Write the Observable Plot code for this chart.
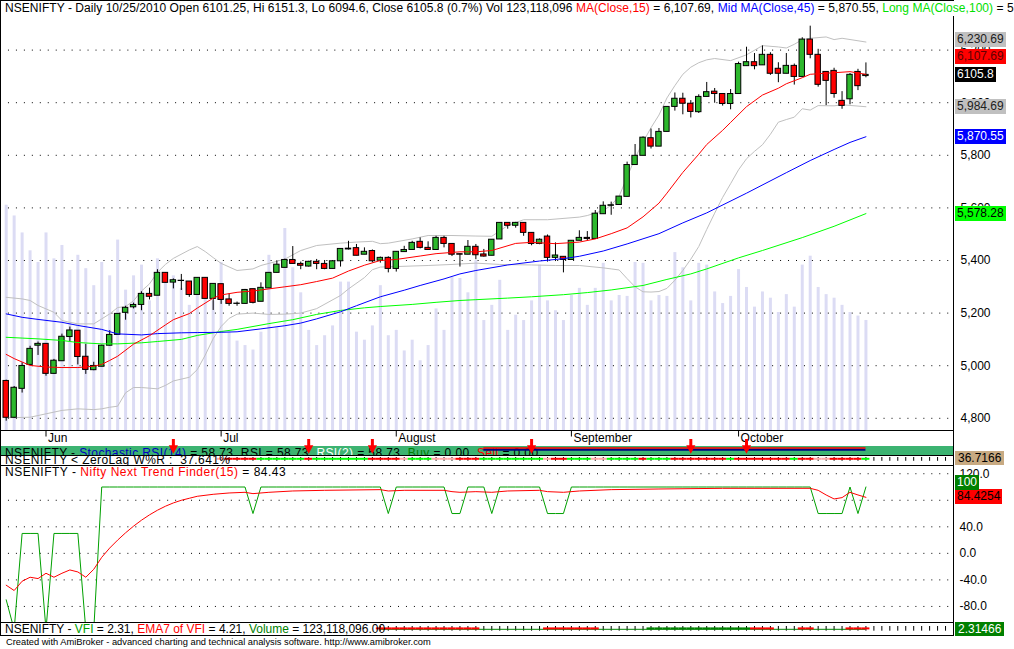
<!DOCTYPE html>
<html>
<head>
<meta charset="utf-8">
<script src="https://cdn.jsdelivr.net/npm/d3@7"></script>
<script src="https://cdn.jsdelivr.net/npm/@observablehq/plot@0.6"></script>
<style>
  html, body { margin:0; padding:0; background:#fff; }
  #root { position:relative; width:1014px; height:649px; overflow:hidden; background:#fff;
          font-family:"Liberation Sans", Arial, sans-serif; font-size:12px; color:#000; }
  #root > * { position:absolute; }
</style>
</head>
<body>
<div id="root"></div>
<script>
// ================= DATA =================
const symbol = "NSENIFTY";
const lastDate = "10/25/2010";
const volumeLast = 123118096;

const opens = [4942,4802,4912,5003,5076,5083,4969,5017,5109,5133,
5034,4983,4996,5076,5117,5201,5222,5231,5273,5266,
5353,5316,5322,5320,5269,5334,5254,5310,5252,5235,
5235,5291,5243,5294,5353,5372,5402,5387,5377,5395,
5387,5368,5397,5442,5447,5422,5436,5399,5410,5368,
5432,5440,5471,5448,5440,5486,5463,5424,5422,5452,
5423,5418,5480,5543,5532,5543,5505,5463,5491,5410,
5414,5402,5475,5486,5482,5576,5608,5611,5642,5763,
5798,5865,5833,5889,5984,6015,5996,5964,6022,6042,
6033,5995,6033,6139,6154,6142,6182,6129,6110,6140,
6098,6240,6182,6117,6121,6007,6013,6117,6101.25];
const highs = [4945,4921,5011,5074,5090,5083,5024,5120,5147,5133,
5081,5013,5078,5133,5197,5226,5238,5281,5295,5365,
5353,5330,5347,5320,5334,5334,5311,5310,5273,5242,
5290,5291,5315,5353,5399,5405,5453,5394,5397,5404,
5400,5400,5444,5473,5461,5448,5440,5413,5414,5434,
5454,5473,5486,5471,5492,5492,5463,5425,5476,5461,
5442,5479,5543,5543,5545,5543,5505,5482,5497,5467,
5414,5475,5513,5510,5590,5623,5622,5643,5774,5841,
5870,5900,5902,5984,6037,6036,6008,6030,6077,6054,
6033,6050,6154,6211,6187,6216,6190,6152,6187,6147,
6247,6291,6203,6117,6131,6042,6111,6127,6151.3];
const lows = [4789,4800,4896,5003,5039,4960,4968,5017,5092,5003,
4967,4981,4996,5075,5115,5173,5216,5209,5250,5266,
5315,5292,5286,5260,5269,5254,5210,5233,5226,5226,
5235,5235,5243,5294,5353,5372,5387,5365,5375,5365,
5365,5368,5375,5440,5418,5422,5391,5390,5353,5356,
5432,5438,5444,5438,5440,5448,5415,5375,5422,5403,
5413,5418,5480,5519,5523,5492,5456,5460,5394,5396,
5353,5402,5475,5476,5482,5576,5572,5611,5642,5763,
5798,5824,5833,5889,5968,5954,5942,5959,6022,5998,
5987,5973,6033,6139,6125,6142,6104,6076,6110,6067,
6098,6167,6059,5989,6017,5975,5992,6046,6094.6];
const closes = [4802,4916,4999,5064,5083,4969,5019,5110,5134,5033,
4984,4999,5076,5117,5197,5220,5231,5273,5262,5353,
5315,5325,5323,5269,5334,5254,5311,5250,5235,5236,
5288,5239,5296,5353,5384,5402,5387,5380,5395,5387,
5368,5397,5444,5445,5418,5433,5397,5410,5368,5433,
5440,5467,5448,5440,5486,5463,5422,5422,5452,5420,
5415,5479,5543,5532,5543,5505,5463,5479,5410,5419,
5402,5475,5486,5482,5578,5608,5610,5643,5763,5798,
5867,5833,5889,5984,6015,5996,5965,6022,6040,6033,
5995,6033,6147,6154,6139,6182,6110,6110,6140,6098,
6240,6182,6068,6083,6033,5988,6106,6062.9,6105.8];
// volume, millions
const volumes = [252,240,221,201,188,221,192,207,179,196,
181,162,188,173,213,157,173,185,145,192,
168,173,159,140,157,170,145,188,110,100,
95,90,110,196,115,226,182,154,112,95,
106,117,166,166,110,101,117,162,106,112,
89,101,78,95,136,112,171,170,154,190,
123,140,168,112,129,123,145,185,145,134,
123,151,159,140,159,187,145,151,150,188,
187,145,151,150,199,182,145,187,185,155,
142,150,180,160,138,155,148,132,152,138,
185,195,160,152,148,140,132,128,123.1];

// moving averages & Bollinger bands: [bar index, value]
const ma15 = [[0,5043],[1,5027],[3,5001],[5,4995],[7,4993],[9,4993],[11,4998],[12,5005],[13,5020],[14,5036],[16,5082],[18,5114],[20,5155],[21,5175],[23,5198],[24,5219],[26,5257],[27,5269],[29,5279],[31,5284],[33,5292],[35,5300],[37,5308],[39,5320],[41,5333],[43,5360],[45,5382],[47,5400],[49,5404],[52,5417],[54,5426],[57,5433],[59,5433],[61,5438],[64,5465],[66,5469],[69,5464],[72,5470],[74,5482],[76,5502],[78,5524],[80,5566],[82,5618],[83,5656],[85,5735],[87,5804],[88,5841],[90,5895],[91,5925],[93,5985],[95,6029],[97,6055],[98,6072],[100,6095],[101,6108],[103,6112],[104,6114],[106,6118],[108,6107.69]];
const ma45 = [[0,5197],[2,5184],[4,5176],[7,5165],[9,5153],[12,5138],[14,5121],[17,5117],[19,5122],[22,5125],[24,5126],[27,5127],[29,5129],[32,5140],[35,5152],[37,5162],[39,5178],[42,5205],[44,5228],[47,5262],[50,5287],[52,5305],[55,5330],[57,5349],[59,5362],[63,5383],[67,5398],[70,5407],[72,5416],[75,5436],[78,5463],[82,5502],[85,5543],[88,5581],[93,5656],[98,5734],[101,5780],[104,5822],[106,5849],[108,5870.55]];
const ma100 = [[0,5108],[2,5105],[4,5102],[7,5096],[9,5088],[12,5083],[14,5083],[17,5087],[19,5092],[22,5100],[24,5115],[27,5130],[29,5138],[33,5160],[36,5175],[39,5195],[42,5210],[45,5220],[47,5225],[51,5233],[54,5241],[57,5248],[59,5251],[63,5257],[66,5262],[70,5270],[73,5278],[76,5288],[80,5305],[83,5328],[86,5349],[88,5368],[92,5410],[95,5438],[100,5487],[104,5530],[108,5578.28]];
const bbUpper = [[0,5260],[2,5254],[3,5248],[4,5229],[6,5203],[7,5172],[8,5165],[9,5159],[11,5159],[12,5178],[13,5197],[14,5221],[15,5225],[16,5247],[17,5284],[18,5311],[19,5355],[20,5385],[21,5408],[23,5440],[24,5453],[25,5434],[26,5411],[27,5389],[29,5362],[31,5368],[32,5381],[35,5405],[37,5438],[39,5457],[42,5466],[44,5470],[46,5473],[47,5464],[48,5466],[51,5482],[53,5495],[56,5495],[59,5493],[61,5492],[63,5533],[65,5555],[68,5555],[72,5565],[73,5571],[75,5590],[76,5610],[77,5645],[78,5717],[79,5790],[80,5850],[81,5905],[82,5953],[83,6018],[84,6065],[85,6108],[86,6135],[87,6152],[88,6163],[89,6168],[91,6160],[93,6182],[95,6217],[97,6212],[98,6208],[99,6222],[100,6240],[101,6245],[103,6250],[104,6240],[105,6245],[108,6230.69]];
const bbLower = [[0,4802],[3,4804],[5,4817],[7,4830],[9,4836],[11,4833],[12,4836],[13,4842],[14,4846],[15,4897],[16,4917],[17,4917],[19,4912],[20,4925],[21,4942],[23,4956],[24,4985],[25,5040],[26,5103],[27,5149],[28,5180],[29,5196],[31,5200],[33,5195],[35,5196],[37,5200],[39,5217],[42,5267],[43,5292],[45,5335],[46,5365],[47,5375],[49,5377],[53,5381],[56,5385],[59,5390],[62,5385],[66,5383],[69,5381],[72,5381],[75,5372],[76,5368],[77,5364],[78,5331],[79,5300],[80,5281],[81,5280],[82,5282],[83,5294],[84,5325],[85,5362],[86,5405],[87,5453],[88,5518],[89,5580],[90,5640],[91,5692],[92,5745],[93,5787],[94,5815],[95,5840],[96,5880],[97,5926],[98,5936],[99,5945],[100,5977],[101,5972],[102,5989],[104,5988],[105,5992],[108,5984.69]];

const priceTicks = [4800,5000,5200,5400,5600,5800,6000,6200];
const monthNames = ["Jun","Jul","August","September","October"];
const monthStart = [5,27,49,71,92];
const sellSignals = [21,38,46,66,86,93];

// Nifty Next Trend Finder(15)
const trendGreen = [-70,-115,30,30,30,-115,30,30,30,30,-115,-115,
100,100,100,100,100,100,100,100,100,100,100,100,100,100,100,100,100,100,100,
60,
100,100,100,100,100,100,100,100,100,100,100,100,100,100,100,100,
60,
100,100,100,100,100,100,100,
60,60,
100,100,100,
60,
100,100,100,100,100,100,
60,60,60,
100,100,100,100,100,100,100,100,100,100,100,100,100,100,100,100,100,100,100,100,100,100,100,100,100,100,100,100,100,100,100,
60,60,60,60,
100,60,100];
const trendRed = [[0,-48],[1,-56],[2,-42],[3,-36],[4,-38],[5,-30],[6,-36],[7,-30],[8,-25],[9,-28],[10,-36],[11,-24],[12,-6],[13,8],[14,20],[15,31],[16,41],[17,50],[18,58],[19,65],[20,71],[21,76],[22,80],[23,83],[24,86],[26,89],[28,91],[30,92],[31,90],[33,92],[36,94],[40,95],[47,96],[48,94],[50,95],[55,95],[56,93],[57,92],[59,93],[61,92],[63,94],[67,95],[68,93],[70,92],[72,94],[76,96],[82,97],[90,98],[101,98],[102,95],[103,88],[104,82],[105,84],[106,92],[107,88],[108,84.4254]];
const trendTicks = [120,80,40,0,-40,-80];

// ZeroLag W%R state per bar from bar 27 (r = falling, g = rising, p = neutral)
const zeroLagStart = 27;
const zeroLagCodes = "prrrrggggggrgggggggrrrrpgggppprrrggggggggprrgggppggggrgggrrrrrrrgrrrrrrrgrrpprrrrg".split("");
const zeroLagTitleValue = "37.641";
const zeroLagLast = 36.7166;

// VFI / EMA7 of VFI state per bar from bar 47 (r = EMA on top, G = VFI above, g = flat)
const vfiStart = 47;
const vfiCodes = "rrrrrrrrrrrrrggggggggrrrrrrrggggggGGGGGGGGGGGGGrrrgggrrggggrrr".split("");
const vfiLast = 2.31466, emaVfiLast = 4.21;

const rsiValue = "58.73";

// ================= RENDER =================
const root = document.getElementById("root");
const N = closes.length;
const bars = d3.range(N).map(i => ({i, o: opens[i], h: highs[i], l: lows[i], c: closes[i], v: volumes[i]}));
const W = 1014, AXIS_X = 953, MR = W - AXIS_X;
const X_DOMAIN = [-0.716, 119.0];
const FONT = '"Liberation Sans", Arial, sans-serif';
const UP = "#2db82d", DOWN = "#ff0000";
const baseStyle = {background: "transparent", fontFamily: FONT, fontSize: "12px", color: "#000", overflow: "hidden"};
const pts = a => a.map(([x, y]) => ({x, y}));
const fmt = d3.format(",");
const fmt2 = d3.format(",.2f");

function addDiv(html, left, top, css) {
  const d = document.createElement("div");
  d.innerHTML = html;
  d.style.left = left + "px"; d.style.top = top + "px";
  Object.assign(d.style, css || {});
  root.appendChild(d);
  return d;
}
function addPlot(svg, top) {
  svg.style.position = "absolute"; svg.style.left = "0px"; svg.style.top = top + "px";
  root.appendChild(svg); return svg;
}
function scaleFn(plot, name) {
  const s = plot.scale(name);
  if (s && typeof s.apply === "function") return v => s.apply(v);
  return d3.scaleLinear(s.domain, s.range);
}
const common = {width: W, marginTop: 0, marginBottom: 0, marginLeft: 0, marginRight: MR, style: baseStyle,
  x: {domain: X_DOMAIN, axis: null}};

// --- volume (background of price pane)
const PRICE_H = 430;
addPlot(Plot.plot({...common, height: PRICE_H,
  y: {domain: [0, 481], axis: null},
  marks: [Plot.ruleX(bars, {x: "i", y1: 0, y2: "v", stroke: "#dcdcf4", strokeWidth: 3})]
}), 0);

// --- price pane
const pricePlot = Plot.plot({...common, height: PRICE_H,
  y: {domain: [4753.6, 6388.6], axis: "right", ticks: priceTicks, tickFormat: fmt, tickSize: 0, tickPadding: 7, label: null},
  marks: [
    Plot.ruleY(priceTicks, {stroke: "#000", strokeDasharray: "1,6.96"}),
    Plot.line(pts(bbUpper), {x: "x", y: "y", stroke: "#c0c0c0", strokeWidth: 1}),
    Plot.line(pts(bbLower), {x: "x", y: "y", stroke: "#c0c0c0", strokeWidth: 1}),
    Plot.ruleX(bars, {x: "i", y1: "l", y2: "h", stroke: "#000", strokeWidth: 1}),
    Plot.rect(bars, {x1: d => d.i - 0.34, x2: d => d.i + 0.34, y1: "o", y2: "c",
      fill: d => d.c >= d.o ? UP : DOWN, stroke: "#000", strokeWidth: 1}),
    Plot.line(pts(ma100), {x: "x", y: "y", stroke: "#00ff00", strokeWidth: 1}),
    Plot.line(pts(ma45), {x: "x", y: "y", stroke: "#0000ff", strokeWidth: 1}),
    Plot.line(pts(ma15), {x: "x", y: "y", stroke: "#ff0000", strokeWidth: 1})
  ]
});
addPlot(pricePlot, 0);

// --- label boxes stacked like AmiBroker
function stack(labels, yf, gap) {
  const placed = [];
  for (const L of labels) {
    let c = yf(L.value), moved = true, guard = 0;
    while (moved && guard++ < 20) {
      moved = false;
      for (const P of placed) if (Math.abs(P.c - c) < gap) { c = P.c - gap - 0.5; moved = true; }
    }
    L.c = c; placed.push(L);
  }
  return labels;
}
function labelBox(text, center, bg, fg) {
  return addDiv(text, 955, Math.round(center - 7.5), {height: "15px", lineHeight: "15px", padding: "0 2px",
    background: bg, color: fg, fontSize: "12px", whiteSpace: "nowrap"});
}
const last = N - 1;
const yPrice = scaleFn(pricePlot, "y");
const priceLabels = stack([
  {value: closes[last], text: String(closes[last]), bg: "#000", fg: "#fff"},
  {value: ma15[ma15.length-1][1], text: fmt2(ma15[ma15.length-1][1]), bg: "#ff0000", fg: "#600000"},
  {value: bbUpper[bbUpper.length-1][1], text: fmt2(bbUpper[bbUpper.length-1][1]), bg: "#c0c0c0", fg: "#202020"},
  {value: bbLower[bbLower.length-1][1], text: fmt2(bbLower[bbLower.length-1][1]), bg: "#c0c0c0", fg: "#202020"},
  {value: ma45[ma45.length-1][1], text: fmt2(ma45[ma45.length-1][1]), bg: "#0000ff", fg: "#fff"},
  {value: ma100[ma100.length-1][1], text: fmt2(ma100[ma100.length-1][1]), bg: "#00ff00", fg: "#000"}
], yPrice, 17);
for (const L of priceLabels) labelBox(L.text, L.c, L.bg, L.fg);

// --- header
const prevClose = closes[last - 1];
const pct = ((closes[last] / prevClose - 1) * 100).toFixed(1);
addDiv(`${symbol} - Daily ${lastDate} Open ${opens[last]}, Hi ${highs[last]}, Lo ${lows[last]}, Close ${closes[last]} (${pct}%) Vol ${fmt(volumeLast)} ` +
  `<span style="color:#ff0000">MA(Close,15)</span> = ${fmt2(ma15[ma15.length-1][1])}, ` +
  `<span style="color:#0000ff">Mid MA(Close,45)</span> = ${fmt2(ma45[ma45.length-1][1])}, ` +
  `<span style="color:#00e000">Long MA(Close,100)</span> = ${fmt2(ma100[ma100.length-1][1])}`,
  5, 2, {whiteSpace: "nowrap", lineHeight: "12px", fontSize: "12px", letterSpacing: "0.05px"});

// --- green RSI strip background + clipped caption
addDiv("", 1, 446, {width: "952px", height: "9px", background: "#3cb371"});
const rsiBox = addDiv("", 1, 446, {width: "952px", height: "9px", overflow: "hidden"});
rsiBox.innerHTML = `<div style="position:absolute;left:4px;top:0.5px;white-space:nowrap;line-height:12px;font-size:12px;letter-spacing:0.4px;color:#000">${symbol} - <span style="color:#0000c0">Stochastic RSI(14)</span> = ${rsiValue}, RSI = ${rsiValue}, <span style="color:#fff">RSI(2)</span> = ${rsiValue}, <span style="color:#008000">Buy</span> = 0.00, <span style="color:#ff0000">Sell</span> = 0.00</div>`;

// --- date band + sell arrows + strip lines
const STRIP_H = 26;
const triDown = {draw(ctx, size) { const s = Math.sqrt(size / Math.PI);
  ctx.moveTo(-s * 1.35, -s * 0.9); ctx.lineTo(s * 1.35, -s * 0.9); ctx.lineTo(0, s * 1.6); ctx.closePath(); }};
const months = monthNames.map((m, k) => ({label: m, i: monthStart[k]}));
addPlot(Plot.plot({...common, height: STRIP_H,
  y: {domain: [0, STRIP_H], range: [0, STRIP_H], axis: null},
  marks: [
    Plot.ruleY([19.2], {x1: 60, x2: last, stroke: "#000080", strokeWidth: 2}),
    Plot.ruleY([17.6], {x1: 60, x2: last, stroke: "#ff0000", strokeWidth: 1.5}),
    Plot.ruleX(months, {x: "i", y1: 1, y2: 6.5, stroke: "#000"}),
    Plot.text(months, {x: "i", y: 7.6, text: "label", textAnchor: "start", dx: 2, fill: "#000"}),
    Plot.ruleX(sellSignals, {x: d => d, y1: 9, y2: 16, stroke: "#ff0000", strokeWidth: 3}),
    Plot.dot(sellSignals, {x: d => d, y: 17.8, r: 3.4, symbol: triDown, fill: "#ff0000", stroke: "none"})
  ]
}), 430);

// --- ZeroLag W%R pane
const ZL_H = 9;
const zlColors = {r: "#ff0000", g: "#00ff00", p: "#ffa8a8"};
const zlData = zeroLagCodes.map((c, k) => ({i: zeroLagStart + k, c}));
addPlot(Plot.plot({...common, height: ZL_H,
  y: {domain: [0, ZL_H], range: [0, ZL_H], axis: null},
  marks: [
    Plot.ruleX(d3.range(zeroLagStart, 119), {x: d => d, y1: 1, y2: 4.8, stroke: "#000"}),
    Plot.rect(zlData, {x1: d => d.i - 0.5, x2: d => d.i + 0.5, y1: 1.8, y2: 3.8, fill: d => zlColors[d.c]})
  ]
}), 456);
addDiv(`${symbol} &lt; ZeroLag W%R :&nbsp; ${zeroLagTitleValue}%`, 5, 454, {whiteSpace: "nowrap", lineHeight: "12px", letterSpacing: "0.4px"});
addDiv(String(zeroLagLast), 955, 451, {height: "14px", lineHeight: "14px", padding: "0 3px", background: "#c8aa82", color: "#000"});

// --- Trend Finder pane
const TR_TOP = 465, TR_H = 158;
const trendPlot = Plot.plot({...common, height: TR_H,
  y: {domain: [-105.7, 132.4], axis: "right", ticks: trendTicks, tickFormat: d => d.toFixed(1), tickSize: 0, tickPadding: 6, label: null},
  marks: [
    Plot.ruleY(trendTicks, {stroke: "#000", strokeDasharray: "1,6.96"}),
    Plot.line(trendGreen, {x: (d, i) => i, y: d => d, stroke: "#00a000", strokeWidth: 1}),
    Plot.line(pts(trendRed), {x: "x", y: "y", stroke: "#ff0000", strokeWidth: 1})
  ]
});
addPlot(trendPlot, TR_TOP);
const yTrend = scaleFn(trendPlot, "y");
const trendLabels = stack([
  {value: trendRed[trendRed.length-1][1], text: String(trendRed[trendRed.length-1][1]), bg: "#ff0000", fg: "#000"},
  {value: trendGreen[last], text: String(trendGreen[last]), bg: "#008000", fg: "#fff"}
], yTrend, 14);
for (const L of trendLabels) labelBox(L.text, TR_TOP + L.c, L.bg, L.fg);
addDiv(`${symbol} - <span style="color:#ff0000">Nifty Next Trend Finder(15)</span> = ${trendRed[trendRed.length-1][1].toFixed(2)}`,
  1, 466, {whiteSpace: "nowrap", lineHeight: "12px", background: "#fff", paddingLeft: "4px", paddingRight: "2px", letterSpacing: "0.5px"});

// --- VFI pane
const VFI_H = 12;
const vfiData = vfiCodes.map((c, k) => ({i: vfiStart + k, c}));
addPlot(Plot.plot({...common, height: VFI_H,
  y: {domain: [0, VFI_H], range: [0, VFI_H], axis: null},
  marks: [
    Plot.ruleX(d3.range(vfiStart, 119), {x: d => d, y1: 3, y2: 7.7, stroke: "#000"}),
    Plot.ruleY([5.8], {x1: vfiStart, x2: last, stroke: "#008000"}),
    Plot.rect(vfiData.filter(d => d.c !== "g"), {x1: d => d.i - 0.5, x2: d => d.i + 0.5, y1: 4.4, y2: 6.4,
      fill: d => d.c === "r" ? "#ff0000" : "#008000"})
  ]
}), 623);
addDiv(`${symbol} - <span style="color:#00a000">VFI</span> = ${vfiLast.toFixed(2)}, <span style="color:#ff0000">EMA7 of VFI</span> = ${emaVfiLast.toFixed(2)}, <span style="color:#008000">Volume</span> = ${fmt2(volumeLast)}`,
  5, 623, {whiteSpace: "nowrap", lineHeight: "12px"});
addDiv(String(vfiLast), 955, 622, {height: "14px", lineHeight: "14px", padding: "0 3px", background: "#008000", color: "#fff"});

// --- frame lines
const hl = (y) => addDiv("", 0, y, {width: (AXIS_X + 1) + "px", height: "1px", background: "#000"});
[0, 430, 455, 465, 622, 635].forEach(hl);
addDiv("", 0, 0, {width: "1px", height: "636px", background: "#000"});
addDiv("", AXIS_X, 16, {width: "1px", height: "620px", background: "#000"});

// --- footer
addDiv("Created with AmiBroker - advanced charting and technical analysis software. http://www.amibroker.com",
  6, 638, {whiteSpace: "nowrap", fontSize: "9.3px", lineHeight: "9px"});
</script>
</body>
</html>
